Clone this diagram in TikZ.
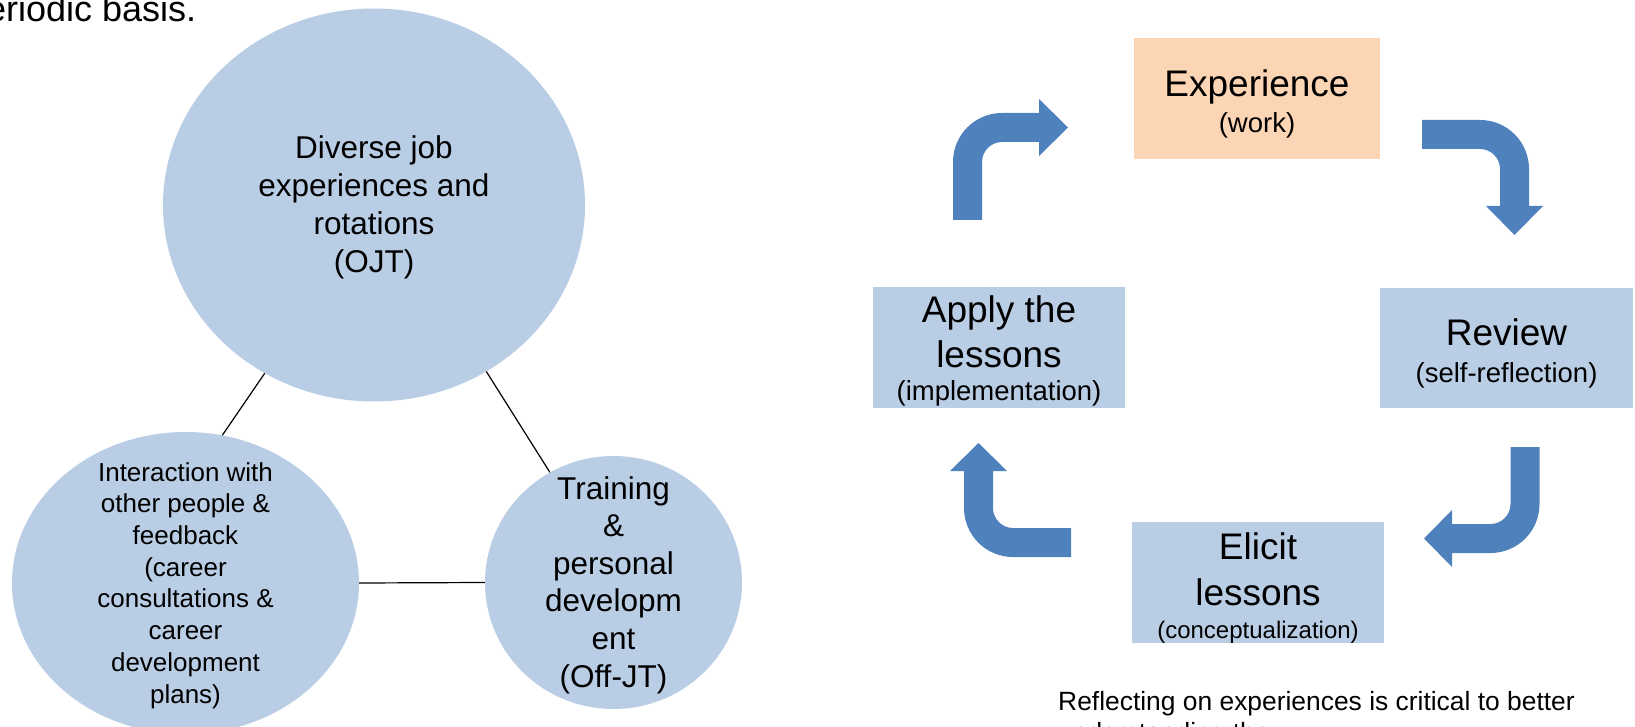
\documentclass[tikz,border=0pt]{standalone}
\usepackage{fontspec}
\setmainfont{Liberation Sans}
\usetikzlibrary{shapes.geometric}
\definecolor{bubblefill}{HTML}{B9CDE5}
\definecolor{peach}{HTML}{FCD5B5}
\definecolor{arrowblue}{HTML}{4F81BD}
\newcommand\cyclesub[1]{{\fontsize{27.5}{33}\selectfont #1}}
\begin{document}
\begin{tikzpicture}[x=1pt,y=-1pt,
  bubble/.style={ellipse, fill=bubblefill, draw=none, inner sep=0pt},
  bubbletext/.style={inner sep=0pt, align=center},
  cyclebox/.style={rectangle, fill=bubblefill, draw=none, inner sep=0pt, align=center,
    font=\fontsize{37}{44}\selectfont},
  link/.style={draw=black, line width=1.2pt},
  bentarrow/.style={fill=arrowblue, draw=none}]
\useasboundingbox (0,0) rectangle (1635,727);

% top fragment of text
\node[anchor=base west, inner sep=0pt, font=\fontsize{36}{43}\selectfont] (topline) at (-34,22) {periodic basis.};

% bubbles
\node[bubble, minimum width=422pt, minimum height=393pt] (ojt) at (374,205) {};
\node[bubble, minimum width=347pt, minimum height=302pt] (inter) at (185.5,583) {};
\node[bubble, minimum width=257pt, minimum height=253pt] (offjt) at (613.5,582.5) {};

\node[bubbletext, font=\fontsize{31.5}{38.3}\selectfont] (ojt-text) at (ojt.center)
  {\rule{0pt}{27.6pt}Diverse job\\experiences and\\rotations\\(OJT)};
\node[bubbletext, font=\fontsize{26}{31.7}\selectfont] (inter-text) at (inter.center)
  {\rule{0pt}{23.5pt}Interaction with\\other people \&\\feedback\\(career\\consultations \&\\career\\development\\plans)};
\node[bubbletext, font=\fontsize{31.5}{37.6}\selectfont] (offjt-text) at (offjt.center)
  {\rule{0pt}{27.6pt}Training\\\&\\personal\\developm\\ent\\(Off-JT)};

% links
\draw[link] (ojt.237.4) -- (inter.76);
\draw[link] (ojt.304.7) -- (offjt.120.8);
\draw[link] (inter.east) -- (offjt.west);

% cycle boxes
\node[cyclebox, fill=peach, minimum width=246pt, minimum height=121pt] (exp) at (1257,98.5)
  {\rule{0pt}{37pt}Experience\\[-8pt]\cyclesub{(work)}};
\node[cyclebox, minimum width=253pt, minimum height=120pt] (rev) at (1506.5,348)
  {\rule{0pt}{37pt}Review\\[-7pt]\cyclesub{(self-reflection)}};
\node[cyclebox, minimum width=252pt, minimum height=121pt] (eli) at (1258,582.5)
  {\rule{0pt}{37.1pt}Elicit\\[2pt]lessons\\[-11pt]{\fontsize{24}{29}\selectfont (conceptualization)}};
\node[cyclebox, minimum width=252pt, minimum height=121pt] (app) at (999,347.5)
  {\rule{0pt}{33pt}Apply the\\[1pt]lessons\\[-11pt]\cyclesub{(implementation)}};

% bent arrows
\fill[bentarrow] (953,220) -- (953,162) .. controls (953,134.9) and (974.9,113) .. (1002,113)
  -- (1039,113) -- (1039,99) -- (1068,127.5) -- (1039,156) -- (1039,142) -- (1002,142)
  .. controls (991,142) and (982,151) .. (982,162) -- (982,220) -- cycle;
\fill[bentarrow] (1422,120) -- (1480,120) .. controls (1507.1,120) and (1529,141.9) .. (1529,169)
  -- (1529,206) -- (1543,206) -- (1514.5,235) -- (1486,206) -- (1500,206) -- (1500,169)
  .. controls (1500,158) and (1491,149) .. (1480,149) -- (1422,149) -- cycle;
\fill[bentarrow] (1510.5,447) -- (1539.5,447) -- (1539.5,504) .. controls (1539.5,531.1) and (1517.6,553) .. (1490.5,553)
  -- (1452,553) -- (1452,567) -- (1424,538.5) -- (1452,510) -- (1452,524) -- (1490.5,524)
  .. controls (1501.5,524) and (1510.5,515) .. (1510.5,504) -- cycle;
\fill[bentarrow] (1071,528) -- (1071,557) -- (1013,557) .. controls (985.9,557) and (964,535.1) .. (964,508)
  -- (964,471) -- (950,471) -- (978.5,443) -- (1007,471) -- (993,471) -- (993,508)
  .. controls (993,519) and (1002,528) .. (1013,528) -- cycle;

% note
\node[anchor=north west, inner sep=0pt, align=left, font=\fontsize{26.4}{31.7}\selectfont] (note) at (1058,690)
  {\rule{0pt}{20pt}Reflecting on experiences is critical to better\\understanding the};
\end{tikzpicture}
\end{document}
